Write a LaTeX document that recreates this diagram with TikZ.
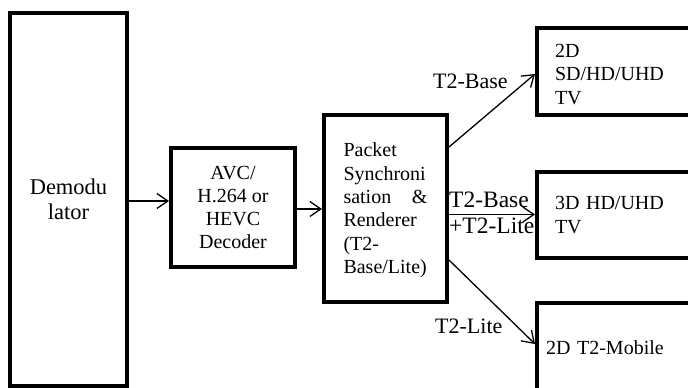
\documentclass[tikz,border=0pt]{standalone}
\usepackage{fontspec}
\setmainfont{Liberation Serif}
\usetikzlibrary{arrows.meta}
\begin{document}
\begin{tikzpicture}[x=1pt,y=-1pt,
  txt/.style={font=\fontsize{20}{23.3}\selectfont},
  blk/.style={txt, draw, line width=4pt, rectangle, inner sep=0pt},
  lbl/.style={font=\fontsize{22}{24}\selectfont, inner sep=0pt, anchor=base west},
  arr/.style={line width=1.3pt, -{Straight Barb[length=11pt,width=15pt,line width=1.3pt]}}]
\useasboundingbox (0,0) rectangle (688,388);
\clip (0,0) rectangle (688,388);

% processing chain
\node[blk, font=\fontsize{22.5}{25}\selectfont, minimum width=117pt, minimum height=373pt, align=center] (demod) at (68.5,199.5) {Demodu\\lator};
\node[blk, minimum width=124pt, minimum height=119pt, align=center] (dec) at (233,207.5) {AVC/\\H.264 or\\HEVC\\Decoder};
\node[blk, minimum width=123pt, minimum height=187pt, text width=84pt, align=left] (pkt) at (385.5,208.5)
  {\rule{0pt}{17.7pt}Packet\\Synchroni\\sation\hfill\&\\Renderer\\(T2-\\Base/Lite)};

% display terminals
\node[blk, minimum width=180pt, minimum height=87pt, text width=144pt, align=left] (tv2d) at (627,71.5) {\rule{0pt}{19pt}2D\\SD/HD/UHD\\TV};
\node[blk, minimum width=180pt, minimum height=86pt, text width=144pt, align=left] (tv3d) at (627,215) {3D HD/UHD\\TV};
\node[blk, minimum width=180pt, minimum height=89pt, text width=162pt, align=left] (mob) at (627,347.5) {2D T2-Mobile};

% connections
\draw[arr] (demod.east |- 0,201) -- (dec.west |- 0,201);
\draw[arr] (dec.east |- 0,209) -- (pkt.west |- 0,209);
\draw[arr] (pkt.east |- 0,147) -- (tv2d.west |- 0,74);
\draw[arr] (pkt.east |- 0,214.5) -- (tv3d.west |- 0,214.5);
\draw[arr] (pkt.east |- 0,260) -- (mob.west |- 0,344);

% stream labels
\node[lbl] (lbase) at (433,88) {T2-Base};
\node[lbl, font=\fontsize{23.5}{24}\selectfont] (lboth) at (449,207.7) {T2-Base};
\node[lbl, font=\fontsize{23.5}{24}\selectfont] (lplus) at (449,233.3) {+T2-Lite};
\node[lbl] (llite) at (435,333) {T2-Lite};
\end{tikzpicture}
\end{document}
